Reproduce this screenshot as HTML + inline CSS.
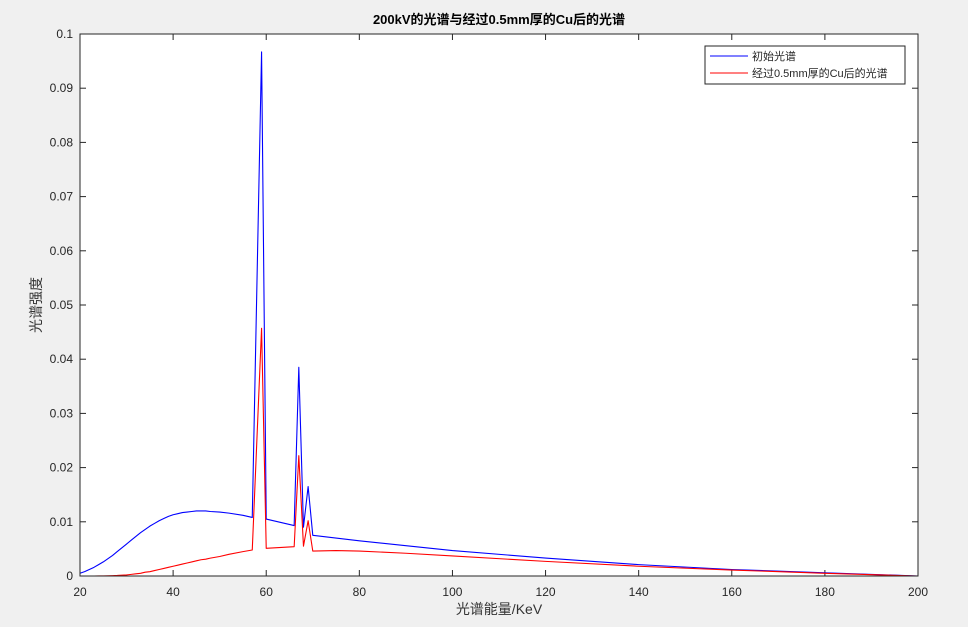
<!DOCTYPE html>
<html><head><meta charset="utf-8"><style>
html,body{margin:0;padding:0;background:#f0f0f0;}
svg{display:block;font-family:"Liberation Sans","Noto Sans CJK SC",sans-serif;}
</style></head><body>
<svg id="chart" width="968" height="627" xmlns="http://www.w3.org/2000/svg">
<rect x="0" y="0" width="968" height="627" fill="#f0f0f0"/>
<rect x="80" y="34" width="838" height="542" fill="#fff"/>
<text x="499" y="24" text-anchor="middle" font-size="13" font-weight="bold" fill="#000">200kV的光谱与经过0.5mm厚的Cu后的光谱</text>
<text x="499" y="614" text-anchor="middle" font-size="14" fill="#333">光谱能量/KeV</text>
<text transform="translate(41,305) rotate(-90)" text-anchor="middle" font-size="14" fill="#333">光谱强度</text>
<g id="axes"></g>
<g id="series"></g>
<rect x="80" y="34" width="838" height="542" fill="none" stroke="#262626" stroke-width="1"/>
<g>
<rect x="705" y="46" width="200" height="38" fill="#fff" stroke="#262626" stroke-width="1"/>
<line x1="710" y1="56" x2="748" y2="56" stroke="#0000ff"/>
<text x="752" y="60" font-size="11" fill="#262626">初始光谱</text>
<line x1="710" y1="73" x2="748" y2="73" stroke="#ff0000"/>
<text x="752" y="77" font-size="11" fill="#262626">经过0.5mm厚的Cu后的光谱</text>
</g>
</svg>
<script>
const energies = [20,21,22,23,24,25,26,27,28,29,30,31,32,33,34,35,36,37,38,39,40,41,42,43,44,45,46,47,48,50,52,55,57,59,60,66,67,68,69,70,75,80,90,100,120,140,160,180,200];
const initialSpectrum = [0.0005,0.0008,0.0012,0.0016,0.0021,0.0026,0.0032,0.0038,0.0045,0.0052,0.0059,0.0066,0.0073,0.0080,0.0086,0.0092,0.0097,0.0102,0.0106,0.0110,0.0113,0.0115,0.0117,0.0118,0.0119,0.0120,0.0120,0.0120,0.0119,0.0118,0.0116,0.0112,0.0108,0.0967,0.0105,0.0093,0.0385,0.009,0.0165,0.0075,0.0070,0.0065,0.0056,0.0047,0.0033,0.0021,0.0012,0.0006,0.0];
const filteredSpectrum = [0.0,0.0,0.0,0.0,0.00001,0.00002,0.00004,0.00007,0.0001,0.00015,0.0002,0.0003,0.0004,0.0005,0.0007,0.0008,0.001,0.0012,0.0014,0.0016,0.0018,0.002,0.0022,0.0024,0.0026,0.0028,0.003,0.0031,0.0033,0.0036,0.0040,0.0045,0.0048,0.0457,0.0051,0.0054,0.0222,0.0055,0.0102,0.0046,0.0047,0.0046,0.0042,0.0037,0.0027,0.0018,0.0011,0.0005,0.0];
const xTicks = [20,40,60,80,100,120,140,160,180,200];
const yTicks = [0,0.01,0.02,0.03,0.04,0.05,0.06,0.07,0.08,0.09,0.1];
const yTickLabels = ["0","0.01","0.02","0.03","0.04","0.05","0.06","0.07","0.08","0.09","0.1"];

const NS="http://www.w3.org/2000/svg";
const L=80,R=918,T=34,B=576;
function xs(v){return L+(v-20)/(200-20)*(R-L);}
function ys(v){return B-v/0.1*(B-T);}
const axes=document.getElementById('axes');
function mk(tag,attrs,parent){const e=document.createElementNS(NS,tag);for(const k in attrs)e.setAttribute(k,attrs[k]);parent.appendChild(e);return e;}
xTicks.forEach(v=>{
  const x=xs(v);
  const t1=mk('line',{x1:x,y1:B,x2:x,y2:B-6,stroke:'#262626'},axes);
  
  
  const t2=mk('line',{x1:x,y1:T,x2:x,y2:T+6,stroke:'#262626'},axes);
  
  
  const tx=mk('text',{x:x,y:B+20,'text-anchor':'middle','font-size':12,fill:'#262626'},axes);
  tx.textContent=v;
  
  
});
yTicks.forEach((v,i)=>{
  const y=ys(v);
  const t1=mk('line',{x1:L,y1:y,x2:L+6,y2:y,stroke:'#262626'},axes);
  
  
  const t2=mk('line',{x1:R,y1:y,x2:R-6,y2:y,stroke:'#262626'},axes);
  
  
  const tx=mk('text',{x:L-7,y:y+4,'text-anchor':'end','font-size':12,fill:'#262626'},axes);
  tx.textContent=yTickLabels[i];
  
  
});
const series=document.getElementById('series');
function drawLine(vals,color,name){
  const pts=energies.map((e,i)=>xs(e).toFixed(2)+','+ys(vals[i]).toFixed(2)).join(' ');
  const p=mk('polyline',{points:pts,fill:'none',stroke:color,'stroke-width':1.1,'stroke-linejoin':'round'},series);
  
  
}
drawLine(initialSpectrum,'#0000ff','initial-spectrum-line');
drawLine(filteredSpectrum,'#ff0000','filtered-spectrum-line');
</script>
</body></html>
